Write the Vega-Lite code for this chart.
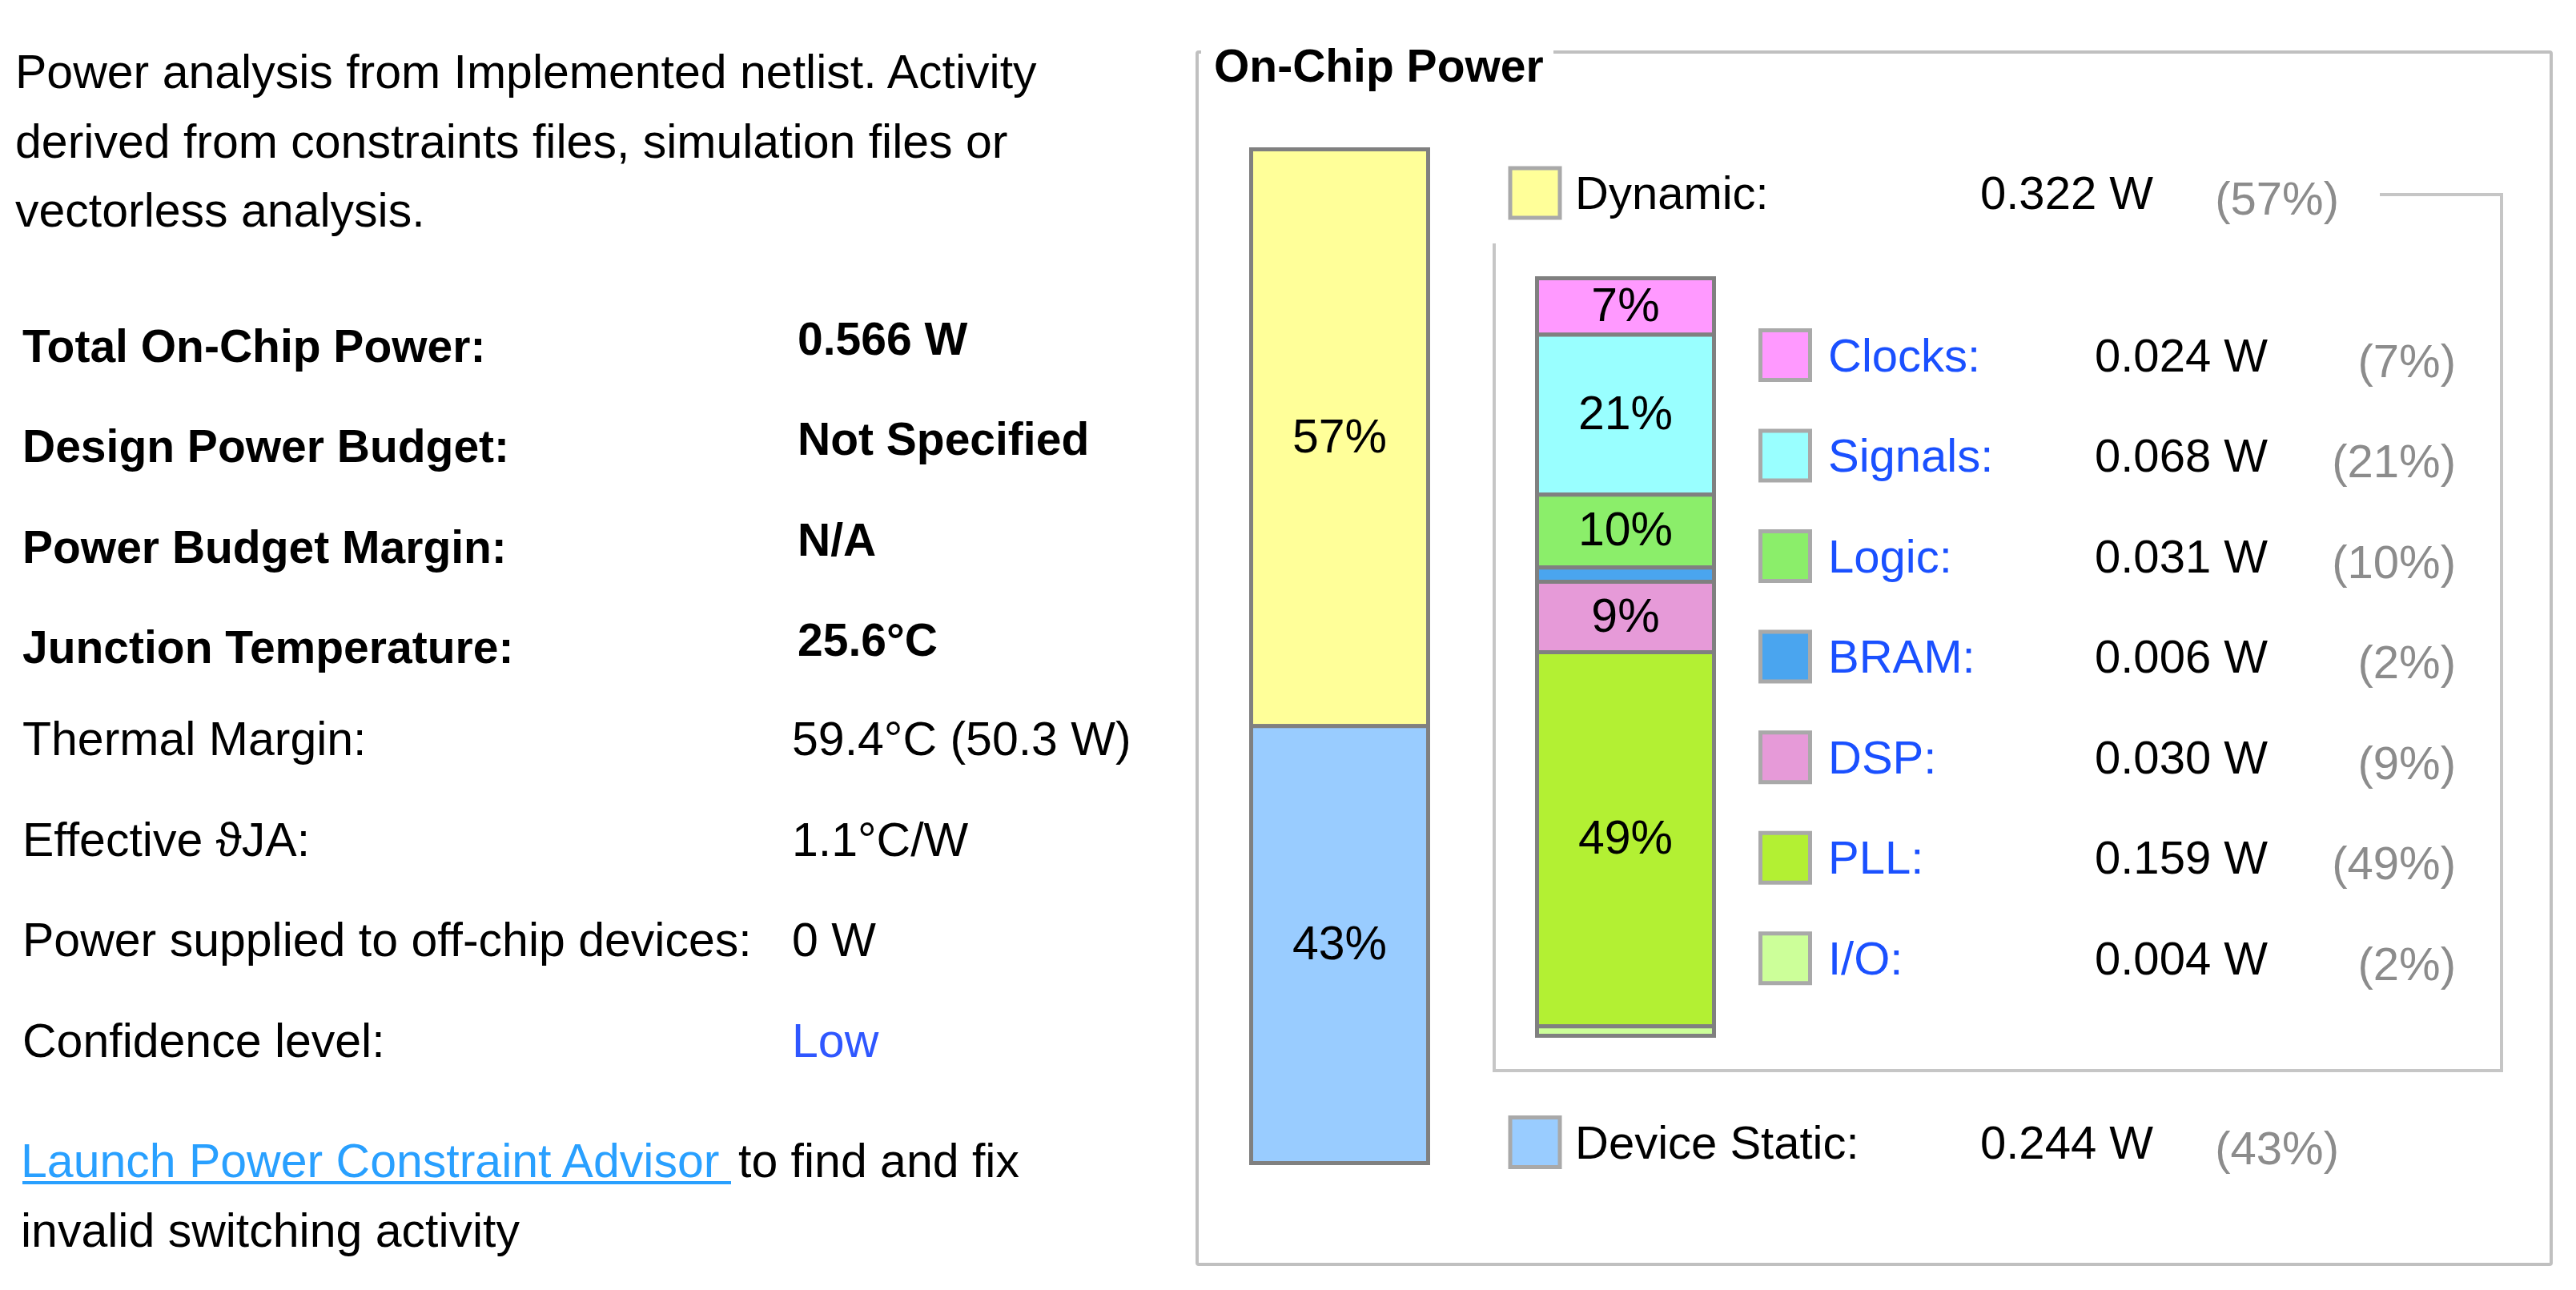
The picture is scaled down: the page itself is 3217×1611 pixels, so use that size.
{
  "$schema": "https://vega.github.io/schema/vega-lite/v6.json",
  "width": 3217,
  "height": 1611,
  "autosize": {"type": "none"},
  "padding": 0,
  "background": "#ffffff",
  "config": {
    "view": {"stroke": null},
    "font": "Liberation Sans",
    "axis": {"disable": true},
    "legend": {"disable": true},
    "text": {"font": "Liberation Sans"}
  },
  "datasets": {
    "intro": [
      {"line": 1, "text": "Power analysis from Implemented netlist. Activity"},
      {"line": 2, "text": "derived from constraints files, simulation files or"},
      {"line": 3, "text": "vectorless analysis."}
    ],
    "summary": [
      {"row": 1, "label": "Total On-Chip Power:", "value": "0.566 W"},
      {"row": 2, "label": "Design Power Budget:", "value": "Not Specified"},
      {"row": 3, "label": "Power Budget Margin:", "value": "N/A"},
      {"row": 4, "label": "Junction Temperature:", "value": "25.6°C"},
      {"row": 5, "label": "Thermal Margin:", "value": "59.4°C (50.3 W)"},
      {"row": 6, "label": "Effective ϑJA:", "value": "1.1°C/W"},
      {"row": 7, "label": "Power supplied to off-chip devices:", "value": "0 W"},
      {"row": 8, "label": "Confidence level:", "value": "Low"}
    ],
    "notes": [
      {"line": 1, "col": "start", "kind": "link", "text": "Launch Power Constraint Advisor"},
      {"line": 1, "col": "after", "kind": "text", "text": "to find and fix"},
      {"line": 2, "col": "start", "kind": "text", "text": "invalid switching activity"}
    ],
    "total": [
      {"bar": "On-Chip Power", "component": "Dynamic", "label": "Dynamic:", "watts": 0.322, "pct": 0.57, "power": "0.322 W", "share": "(57%)", "seq": 1},
      {"bar": "On-Chip Power", "component": "Device Static", "label": "Device Static:", "watts": 0.244, "pct": 0.43, "power": "0.244 W", "share": "(43%)", "seq": 2}
    ],
    "dynamic": [
      {"bar": "Dynamic", "component": "Clocks", "label": "Clocks:", "watts": 0.024, "pct": 0.07, "power": "0.024 W", "share": "(7%)", "seq": 1},
      {"bar": "Dynamic", "component": "Signals", "label": "Signals:", "watts": 0.068, "pct": 0.21, "power": "0.068 W", "share": "(21%)", "seq": 2},
      {"bar": "Dynamic", "component": "Logic", "label": "Logic:", "watts": 0.031, "pct": 0.10, "power": "0.031 W", "share": "(10%)", "seq": 3},
      {"bar": "Dynamic", "component": "BRAM", "label": "BRAM:", "watts": 0.006, "pct": 0.02, "power": "0.006 W", "share": "(2%)", "seq": 4},
      {"bar": "Dynamic", "component": "DSP", "label": "DSP:", "watts": 0.030, "pct": 0.09, "power": "0.030 W", "share": "(9%)", "seq": 5},
      {"bar": "Dynamic", "component": "PLL", "label": "PLL:", "watts": 0.159, "pct": 0.49, "power": "0.159 W", "share": "(49%)", "seq": 6},
      {"bar": "Dynamic", "component": "I/O", "label": "I/O:", "watts": 0.004, "pct": 0.02, "power": "0.004 W", "share": "(2%)", "seq": 7}
    ]
  },
  "resolve": {"scale": {"x": "independent", "y": "independent", "color": "independent"}},
  "layer": [
    {
      "data": {"values": [{"panel": "On-Chip Power"}]},
      "mark": {"type": "rect", "filled": false, "stroke": "#c0c0c0", "strokeWidth": 4, "cornerRadius": 2},
      "encoding": {
        "x": {"datum": "left", "type": "nominal", "scale": {"type": "point", "domain": ["left", "right"], "range": [1495, 3186], "padding": 0}},
        "x2": {"datum": "right"},
        "y": {"datum": "top", "type": "nominal", "scale": {"type": "point", "domain": ["top", "bottom"], "range": [65, 1579], "padding": 0}},
        "y2": {"datum": "bottom"}
      }
    },
    {
      "data": {"values": [{"panel": "On-Chip Power"}]},
      "mark": {"type": "rect", "color": "#ffffff", "opacity": 1},
      "encoding": {
        "x": {"datum": "left", "type": "nominal", "scale": {"type": "point", "domain": ["left", "right"], "range": [1500, 1940], "padding": 0}},
        "x2": {"datum": "right"},
        "y": {"datum": "top", "type": "nominal", "scale": {"type": "point", "domain": ["top", "bottom"], "range": [57, 73], "padding": 0}},
        "y2": {"datum": "bottom"}
      }
    },
    {
      "data": {"values": [{"heading": "On-Chip Power"}]},
      "mark": {"type": "text", "fontSize": 57, "fontWeight": "bold", "align": "left", "baseline": "alphabetic", "color": "#000000"},
      "encoding": {
        "text": {"field": "heading"},
        "x": {"datum": "heading", "type": "nominal", "scale": {"type": "point", "domain": ["heading"], "range": [1516, 1516]}},
        "y": {"datum": "heading", "type": "nominal", "scale": {"type": "point", "domain": ["heading"], "range": [102, 102]}}
      }
    },
    {
      "data": {"values": [{"group": "Dynamic"}]},
      "mark": {"type": "rect", "filled": false, "stroke": "#c6c6c6", "strokeWidth": 4},
      "encoding": {
        "x": {"datum": "left", "type": "nominal", "scale": {"type": "point", "domain": ["left", "right"], "range": [1866, 3124], "padding": 0}},
        "x2": {"datum": "right"},
        "y": {"datum": "top", "type": "nominal", "scale": {"type": "point", "domain": ["top", "bottom"], "range": [243, 1337], "padding": 0}},
        "y2": {"datum": "bottom"}
      }
    },
    {
      "data": {"values": [{"group": "Dynamic"}]},
      "mark": {"type": "rect", "color": "#ffffff", "opacity": 1},
      "encoding": {
        "x": {"datum": "left", "type": "nominal", "scale": {"type": "point", "domain": ["left", "right"], "range": [1858, 2972], "padding": 0}},
        "x2": {"datum": "right"},
        "y": {"datum": "top", "type": "nominal", "scale": {"type": "point", "domain": ["top", "bottom"], "range": [236, 304], "padding": 0}},
        "y2": {"datum": "bottom"}
      }
    },
    {
      "data": {"name": "total"},
      "mark": {"type": "bar", "stroke": "#808080", "strokeWidth": 5, "opacity": 1},
      "encoding": {
        "x": {"field": "bar", "type": "nominal", "scale": {"type": "band", "domain": ["On-Chip Power"], "range": [1562.5, 1783.5], "paddingInner": 0, "paddingOuter": 0}},
        "y": {"field": "watts", "type": "quantitative", "stack": "zero", "scale": {"domain": [0, 0.566], "range": [1452.5, 186.5], "nice": false, "zero": true}},
        "color": {"field": "component", "type": "nominal", "scale": {"domain": ["Dynamic", "Device Static"], "range": ["#FFFF99", "#99CCFF"]}},
        "order": {"field": "seq", "sort": "descending"}
      }
    },
    {
      "data": {"name": "total"},
      "mark": {"type": "text", "fontSize": 59, "align": "center", "baseline": "middle", "color": "#000000"},
      "encoding": {
        "x": {"field": "bar", "type": "nominal", "scale": {"type": "band", "domain": ["On-Chip Power"], "range": [1562.5, 1783.5], "paddingInner": 0, "paddingOuter": 0}},
        "y": {"field": "watts", "type": "quantitative", "stack": "zero", "bandPosition": 0.5, "scale": {"domain": [0, 0.566], "range": [1452.5, 186.5], "nice": false, "zero": true}},
        "detail": {"field": "component"},
        "order": {"field": "seq", "sort": "descending"},
        "text": {"field": "pct", "type": "quantitative", "format": ".0%"}
      }
    },
    {
      "data": {"name": "dynamic"},
      "mark": {"type": "bar", "stroke": "#808080", "strokeWidth": 5, "opacity": 1},
      "encoding": {
        "x": {"field": "bar", "type": "nominal", "scale": {"type": "band", "domain": ["Dynamic"], "range": [1919.5, 2140.5], "paddingInner": 0, "paddingOuter": 0}},
        "y": {"field": "watts", "type": "quantitative", "stack": "zero", "scale": {"domain": [0, 0.322], "range": [1293.5, 347.5], "nice": false, "zero": true}},
        "color": {"field": "component", "type": "nominal", "scale": {"domain": ["Clocks", "Signals", "Logic", "BRAM", "DSP", "PLL", "I/O"], "range": ["#FF99FF", "#99FFFF", "#8BEE6A", "#4AA5EF", "#E69AD8", "#B3F033", "#CCFF99"]}},
        "order": {"field": "seq", "sort": "descending"}
      }
    },
    {
      "data": {"name": "dynamic"},
      "mark": {"type": "text", "fontSize": 59, "align": "center", "baseline": "middle", "color": "#000000"},
      "encoding": {
        "x": {"field": "bar", "type": "nominal", "scale": {"type": "band", "domain": ["Dynamic"], "range": [1919.5, 2140.5], "paddingInner": 0, "paddingOuter": 0}},
        "y": {"field": "watts", "type": "quantitative", "stack": "zero", "bandPosition": 0.5, "scale": {"domain": [0, 0.322], "range": [1293.5, 347.5], "nice": false, "zero": true}},
        "detail": {"field": "component"},
        "order": {"field": "seq", "sort": "descending"},
        "text": {"field": "pct", "type": "quantitative", "format": ".0%"},
        "opacity": {"condition": {"test": "datum.pct < 0.05", "value": 0}, "value": 1}
      }
    },
    {
      "data": {"name": "total"},
      "resolve": {"scale": {"x": "independent", "y": "shared", "color": "independent"}},
      "layer": [
        {
          "mark": {"type": "square", "size": 3844, "opacity": 1, "filled": true, "stroke": "#a9a9a9", "strokeWidth": 5},
          "encoding": {
            "x": {"datum": "swatch", "type": "nominal", "scale": {"type": "point", "domain": ["swatch"], "range": [1917, 1917]}},
            "y": {"field": "seq", "type": "quantitative", "scale": {"domain": [1, 2], "range": [241, 1426.5], "nice": false, "zero": false}},
            "color": {"field": "component", "type": "nominal", "scale": {"domain": ["Dynamic", "Device Static"], "range": ["#FFFF99", "#99CCFF"]}}
          }
        },
        {
          "mark": {"type": "text", "fontSize": 58, "align": "left", "baseline": "alphabetic", "dy": 20, "color": "#000000"},
          "encoding": {
            "x": {"datum": "label", "type": "nominal", "scale": {"type": "point", "domain": ["label"], "range": [1967, 1967]}},
            "y": {"field": "seq", "type": "quantitative"},
            "text": {"field": "label"}
          }
        },
        {
          "mark": {"type": "text", "fontSize": 58, "align": "left", "baseline": "alphabetic", "dy": 20, "color": "#000000"},
          "encoding": {
            "x": {"datum": "power", "type": "nominal", "scale": {"type": "point", "domain": ["power"], "range": [2473, 2473]}},
            "y": {"field": "seq", "type": "quantitative"},
            "text": {"field": "power"}
          }
        },
        {
          "mark": {"type": "text", "fontSize": 58, "align": "right", "baseline": "alphabetic", "dy": 27, "color": "#8c8c8c"},
          "encoding": {
            "x": {"datum": "share", "type": "nominal", "scale": {"type": "point", "domain": ["share"], "range": [2921, 2921]}},
            "y": {"field": "seq", "type": "quantitative"},
            "text": {"field": "share"}
          }
        }
      ]
    },
    {
      "data": {"name": "dynamic"},
      "resolve": {"scale": {"x": "independent", "y": "shared", "color": "independent"}},
      "layer": [
        {
          "mark": {"type": "square", "size": 3844, "opacity": 1, "filled": true, "stroke": "#a9a9a9", "strokeWidth": 5},
          "encoding": {
            "x": {"datum": "swatch", "type": "nominal", "scale": {"type": "point", "domain": ["swatch"], "range": [2229.5, 2229.5]}},
            "y": {"field": "seq", "type": "quantitative", "scale": {"domain": [1, 7], "range": [443.5, 1196.7], "nice": false, "zero": false}},
            "color": {"field": "component", "type": "nominal", "scale": {"domain": ["Clocks", "Signals", "Logic", "BRAM", "DSP", "PLL", "I/O"], "range": ["#FF99FF", "#99FFFF", "#8BEE6A", "#4AA5EF", "#E69AD8", "#B3F033", "#CCFF99"]}}
          }
        },
        {
          "mark": {"type": "text", "fontSize": 58, "align": "left", "baseline": "alphabetic", "dy": 20, "color": "#1A50FF"},
          "encoding": {
            "x": {"datum": "label", "type": "nominal", "scale": {"type": "point", "domain": ["label"], "range": [2283, 2283]}},
            "y": {"field": "seq", "type": "quantitative"},
            "text": {"field": "label"}
          }
        },
        {
          "mark": {"type": "text", "fontSize": 58, "align": "left", "baseline": "alphabetic", "dy": 20, "color": "#000000"},
          "encoding": {
            "x": {"datum": "power", "type": "nominal", "scale": {"type": "point", "domain": ["power"], "range": [2616, 2616]}},
            "y": {"field": "seq", "type": "quantitative"},
            "text": {"field": "power"}
          }
        },
        {
          "mark": {"type": "text", "fontSize": 58, "align": "right", "baseline": "alphabetic", "dy": 27, "color": "#8c8c8c"},
          "encoding": {
            "x": {"datum": "share", "type": "nominal", "scale": {"type": "point", "domain": ["share"], "range": [3067, 3067]}},
            "y": {"field": "seq", "type": "quantitative"},
            "text": {"field": "share"}
          }
        }
      ]
    },
    {
      "data": {"name": "intro"},
      "mark": {"type": "text", "fontSize": 59, "align": "left", "baseline": "alphabetic", "color": "#000000"},
      "encoding": {
        "x": {"datum": "intro", "type": "nominal", "scale": {"type": "point", "domain": ["intro"], "range": [19, 19]}},
        "y": {"field": "line", "type": "quantitative", "scale": {"domain": [1, 3], "range": [110, 283], "nice": false, "zero": false}},
        "text": {"field": "text"}
      }
    },
    {
      "data": {"name": "summary"},
      "transform": [{"filter": "datum.row <= 4"}],
      "mark": {"type": "text", "fontSize": 57, "fontWeight": "bold", "align": "left", "baseline": "alphabetic", "color": "#000000"},
      "encoding": {
        "x": {"datum": "label", "type": "nominal", "scale": {"type": "point", "domain": ["label"], "range": [28, 28]}},
        "y": {"field": "row", "type": "quantitative", "scale": {"domain": [1, 4], "range": [452, 828], "nice": false, "zero": false}},
        "text": {"field": "label"}
      }
    },
    {
      "data": {"name": "summary"},
      "transform": [{"filter": "datum.row <= 4"}],
      "mark": {"type": "text", "fontSize": 57, "fontWeight": "bold", "align": "left", "baseline": "alphabetic", "dy": -9, "color": "#000000"},
      "encoding": {
        "x": {"datum": "value", "type": "nominal", "scale": {"type": "point", "domain": ["value"], "range": [996, 996]}},
        "y": {"field": "row", "type": "quantitative", "scale": {"domain": [1, 4], "range": [452, 828], "nice": false, "zero": false}},
        "text": {"field": "value"}
      }
    },
    {
      "data": {"name": "summary"},
      "transform": [{"filter": "datum.row > 4"}],
      "mark": {"type": "text", "fontSize": 59, "align": "left", "baseline": "alphabetic", "color": "#000000"},
      "encoding": {
        "x": {"datum": "label", "type": "nominal", "scale": {"type": "point", "domain": ["label"], "range": [28, 28]}},
        "y": {"field": "row", "type": "quantitative", "scale": {"domain": [5, 8], "range": [943, 1320], "nice": false, "zero": false}},
        "text": {"field": "label"}
      }
    },
    {
      "data": {"name": "summary"},
      "transform": [{"filter": "datum.row > 4"}],
      "mark": {"type": "text", "fontSize": 59, "align": "left", "baseline": "alphabetic"},
      "encoding": {
        "x": {"datum": "value", "type": "nominal", "scale": {"type": "point", "domain": ["value"], "range": [989, 989]}},
        "y": {"field": "row", "type": "quantitative", "scale": {"domain": [5, 8], "range": [943, 1320], "nice": false, "zero": false}},
        "text": {"field": "value"},
        "color": {"condition": {"test": "datum.label === 'Confidence level:'", "value": "#2F57FF"}, "value": "#000000"}
      }
    },
    {
      "data": {"name": "notes"},
      "mark": {"type": "text", "fontSize": 59, "align": "left", "baseline": "alphabetic"},
      "encoding": {
        "x": {"field": "col", "type": "nominal", "scale": {"type": "point", "domain": ["start", "after"], "range": [26, 922], "padding": 0}},
        "y": {"field": "line", "type": "quantitative", "scale": {"domain": [1, 2], "range": [1470, 1557], "nice": false, "zero": false}},
        "text": {"field": "text"},
        "color": {"field": "kind", "type": "nominal", "scale": {"domain": ["link", "text"], "range": ["#29A0FF", "#000000"]}}
      }
    },
    {
      "data": {"name": "notes"},
      "transform": [{"filter": "datum.kind === 'link'"}],
      "mark": {"type": "rule", "strokeWidth": 4, "color": "#29A0FF"},
      "encoding": {
        "x": {"field": "col", "type": "nominal", "scale": {"type": "point", "domain": ["start", "after"], "range": [28, 913], "padding": 0}},
        "x2": {"datum": "after"},
        "y": {"field": "line", "type": "quantitative", "scale": {"domain": [1, 2], "range": [1477, 1564], "nice": false, "zero": false}}
      }
    }
  ]
}
